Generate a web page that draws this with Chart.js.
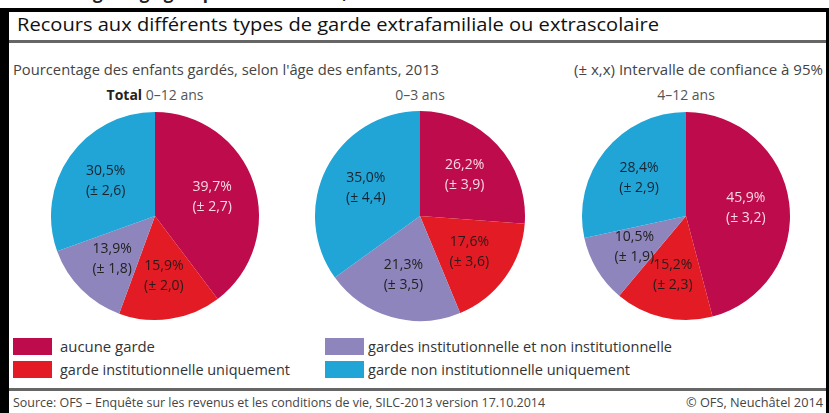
<!DOCTYPE html>
<html>
<head>
<meta charset="utf-8">
<script src="https://cdn.jsdelivr.net/npm/chart.js@4.4.1/dist/chart.umd.min.js"></script>
<style>
  html, body { margin: 0; padding: 0; background: #fff; }
  body { width: 829px; height: 413px; position: relative; overflow: hidden;
         font-family: "Open Sans", "Noto Sans", sans-serif; color: #333; }
  .abs { position: absolute; white-space: nowrap; transform-origin: 0 50%; }
  .cutbox { left: 0; top: 0; width: 829px; height: 6px; overflow: hidden; }
  .cut { left: 20px; top: -17px; font-weight: bold; font-size: 17px; line-height: 20px; color: #222; }
  .frame-top { left: 0; top: 8px; width: 829px; height: 4px; background: #000; }
  .frame-left { left: 0; top: 8px; width: 9px; height: 405px; background: #000; }
  .frame-right { left: 826px; top: 8px; width: 3px; height: 405px; background: #000; }
  .rule { left: 9px; width: 817px; height: 3px; background: #666; }
  .title { left: 17px; top: 12px; font-size: 18px; line-height: 24px; color: #111; }
  .sub { top: 60px; font-size: 14px; line-height: 20px; color: #444; }
  .pt { top: 85px; font-size: 14px; line-height: 20px; color: #555; }
  .pt b { color: #222; }
  .sw { width: 39px; height: 17px; }
  .lg { font-size: 14px; line-height: 20px; color: #333; }
  .src { top: 394px; font-size: 12px; line-height: 18px; color: #444; }
  canvas { position: absolute; }
</style>
</head>
<body>
<div class="abs cutbox"><div class="abs cut">according to age group of the children, 2013</div></div>
<div class="abs frame-top"></div>
<div class="abs frame-left"></div>
<div class="abs frame-right"></div>
<div class="abs title" id="title">Recours aux différents types de garde extrafamiliale ou extrascolaire</div>
<div class="abs rule" style="top:40px"></div>
<div class="abs sub" id="sub1" style="left:13px">Pourcentage des enfants gardés, selon l'âge des enfants, 2013</div>
<div class="abs sub" id="sub2" style="left:574px">(± x,x) Intervalle de confiance à 95%</div>
<div class="abs pt" data-cx="155"><b>Total</b> 0–12 ans</div>
<div class="abs pt" data-cx="420">0–3 ans</div>
<div class="abs pt" data-cx="686">4–12 ans</div>
<canvas id="c1" width="212" height="212" style="left:49px;top:110px"></canvas>
<canvas id="c2" width="214" height="214" style="left:313px;top:109px"></canvas>
<canvas id="c3" width="212" height="212" style="left:580px;top:110px"></canvas>
<div id="legend"></div>
<div class="abs rule" style="top:388px"></div>
<div class="abs src" id="src1" style="left:13px">Source: OFS – Enquête sur les revenus et les conditions de vie, SILC-2013 version 17.10.2014</div>
<div class="abs src" id="src2" style="left:686px">© OFS, Neuchâtel 2014</div>
<script>
const categories = [
  "aucune garde",
  "garde institutionnelle uniquement",
  "gardes institutionnelle et non institutionnelle",
  "garde non institutionnelle uniquement"
];
const colors = ["#be0b4b", "#e31b25", "#8f85bd", "#21a4d6"];
const labelColors = ["#f6d9e3", "#2a1a1a", "#222", "#1a2430"];

const totalValues = [39.7, 15.9, 13.9, 30.5];
const totalCI = [2.7, 2.0, 1.8, 2.6];
const age03Values = [26.2, 17.6, 21.3, 35.0];
const age03CI = [3.9, 3.6, 3.5, 4.4];
const age412Values = [45.9, 15.2, 10.5, 28.4];
const age412CI = [3.2, 2.3, 1.9, 2.9];

const fmt = v => v.toFixed(1).replace(".", ",");

// squeeze or stretch a text line to the width it has in the original
function fit(el, w) {
  const cur = el.getBoundingClientRect().width;
  el.style.transform = "scaleX(" + (w / cur) + ")";
}

const sliceLabels = {
  id: "sliceLabels",
  afterDatasetsDraw(chart, args, opts) {
    const ctx = chart.ctx;
    const arcs = chart.getDatasetMeta(0).data;
    const vals = chart.data.datasets[0].data;
    ctx.save();
    ctx.font = '14px "Open Sans", "Noto Sans", sans-serif';
    ctx.textAlign = "center";
    ctx.textBaseline = "middle";
    arcs.forEach((arc, i) => {
      const p = arc.getProps(["x", "y", "startAngle", "endAngle", "outerRadius"], true);
      const mid = (p.startAngle + p.endAngle) / 2;
      const r = p.outerRadius * opts.dist;
      const x = p.x + Math.cos(mid) * r;
      const y = p.y + Math.sin(mid) * r;
      ctx.fillStyle = labelColors[i];
      ctx.fillText(fmt(vals[i]) + "%", x, y - 10);
      ctx.fillText("(± " + fmt(opts.ci[i]) + ")", x, y + 10);
    });
    ctx.restore();
  }
};

function makePie(id, values, ci) {
  return new Chart(document.getElementById(id), {
    type: "pie",
    data: {
      labels: categories,
      datasets: [{ data: values, backgroundColor: colors, borderWidth: 0 }]
    },
    options: {
      responsive: false,
      animation: false,
      devicePixelRatio: 1,
      layout: { padding: 2 },
      plugins: {
        legend: { display: false },
        tooltip: { enabled: false },
        sliceLabels: { dist: 0.58, ci: ci }
      }
    },
    plugins: [sliceLabels]
  });
}

makePie("c1", totalValues, totalCI);
makePie("c2", age03Values, age03CI);
makePie("c3", age412Values, age412CI);

// legend, two columns
const legendPos = [[13, 338], [13, 361], [325, 338], [325, 361]];
const legendTextX = [60, 60, 368, 368];
const legendWidths = [95, 230, 304, 262];
const legend = document.getElementById("legend");
categories.forEach((name, i) => {
  const [x, y] = legendPos[i];
  const sw = document.createElement("div");
  sw.className = "abs sw";
  sw.style.left = x + "px";
  sw.style.top = y + "px";
  sw.style.background = colors[i];
  legend.appendChild(sw);
  const t = document.createElement("div");
  t.className = "abs lg";
  t.style.left = legendTextX[i] + "px";
  t.style.top = (y - 1) + "px";
  t.textContent = name;
  legend.appendChild(t);
  fit(t, legendWidths[i]);
});

fit(document.getElementById("title"), 642);
fit(document.getElementById("sub1"), 426);
fit(document.getElementById("sub2"), 249);
fit(document.getElementById("src1"), 532);
fit(document.getElementById("src2"), 137);
document.querySelectorAll(".pt").forEach(el => {
  const w = el.getBoundingClientRect().width;
  el.style.left = (+el.dataset.cx - w / 2) + "px";
});
</script>
</body>
</html>
